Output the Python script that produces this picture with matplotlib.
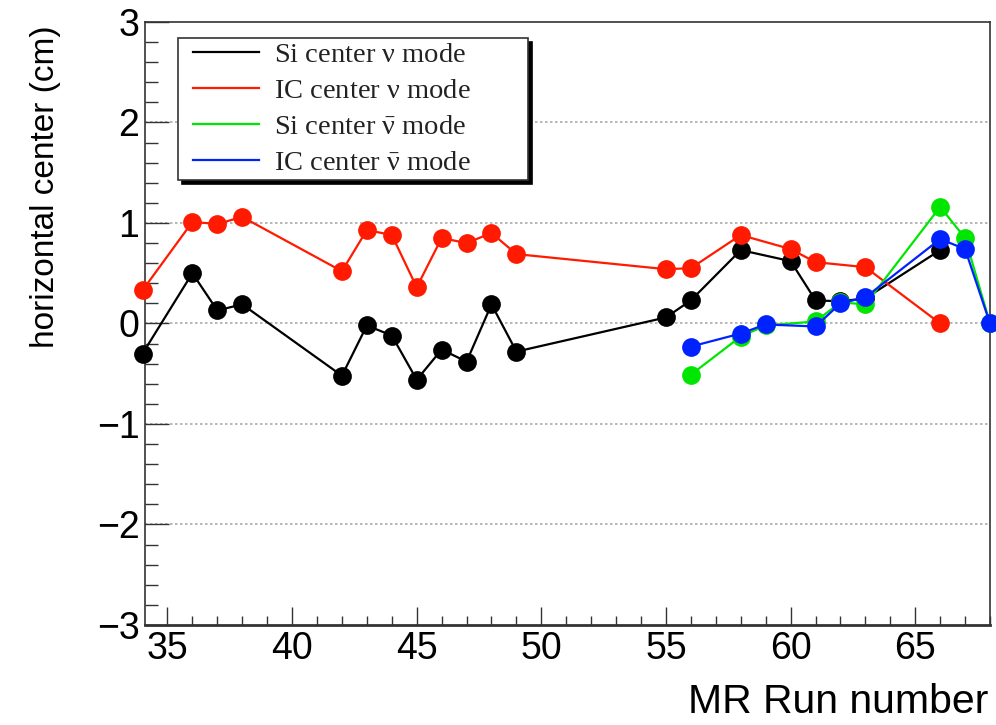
import numpy as np
import matplotlib
matplotlib.use('Agg')
import matplotlib.pyplot as plt
from matplotlib.ticker import MultipleLocator
from matplotlib.lines import Line2D
from matplotlib.legend_handler import HandlerLine2D

# data
run_si_nu = [34, 36, 37, 38, 42, 43, 44, 45, 46, 47, 48, 49, 55, 56, 58, 60, 61, 62, 63, 66]
si_nu = [-0.30, 0.50, 0.13, 0.19, -0.52, -0.02, -0.12, -0.56, -0.26, -0.38, 0.19, -0.28,
         0.06, 0.23, 0.73, 0.62, 0.23, 0.22, 0.25, 0.73]

run_ic_nu = [34, 36, 37, 38, 42, 43, 44, 45, 46, 47, 48, 49, 55, 56, 58, 60, 61, 63, 66]
ic_nu = [0.33, 1.01, 0.99, 1.06, 0.52, 0.93, 0.88, 0.36, 0.85, 0.80, 0.90, 0.69,
         0.54, 0.55, 0.88, 0.74, 0.61, 0.56, 0.00]

run_anti = [56, 58, 59, 61, 62, 63, 66, 67, 68]
si_anu = [-0.51, -0.13, -0.02, 0.02, 0.21, 0.19, 1.16, 0.85, 0.00]
ic_anu = [-0.23, -0.10, -0.01, -0.03, 0.20, 0.26, 0.84, 0.74, 0.00]

labels = [r'Si center $\mathrm{\nu}$ mode', r'IC center $\mathrm{\nu}$ mode',
          r'Si center $\mathrm{\bar{\nu}}$ mode', r'IC center $\mathrm{\bar{\nu}}$ mode']
colors = ['#000000', '#ff1a00', '#00e600', '#0022ff']

plt.rcParams['font.family'] = ['Liberation Sans', 'DejaVu Sans']
plt.rcParams['mathtext.fontset'] = 'custom'
plt.rcParams['mathtext.rm'] = 'Liberation Serif'
plt.rcParams['mathtext.it'] = 'Liberation Serif:italic'

fig = plt.figure(figsize=(9.96, 7.25), dpi=100)
ax = fig.add_axes([0.1456, 0.138, 0.8484, 0.8317])

series = [(run_si_nu, si_nu), (run_ic_nu, ic_nu), (run_anti, si_anu), (run_anti, ic_anu)]
for (xs, ys), c in zip(series, colors):
    ax.plot(xs, ys, '-o', color=c, lw=1.6, ms=13.5, mew=0, clip_on=False, zorder=3)

ax.set_xlim(34.1, 68.0)
ax.set_ylim(-3, 3)

for yv in [-2, -1, 0, 1, 2]:
    ax.axhline(yv, color='#aaaaaa', lw=1.2, ls=(0, (1.5, 1.5)), zorder=1)

ax.xaxis.set_major_locator(MultipleLocator(5))
ax.xaxis.set_minor_locator(MultipleLocator(1))
ax.yaxis.set_major_locator(MultipleLocator(1))
ax.yaxis.set_minor_locator(MultipleLocator(0.2))
ax.tick_params(which='both', direction='in', top=False, right=False, labelsize=27, width=1.0, color='#333333')
ax.tick_params(axis='x', which='major', length=13, pad=4)
ax.tick_params(axis='x', which='minor', length=6.5)
ax.tick_params(axis='y', which='major', length=17, pad=4)
ax.tick_params(axis='y', which='minor', length=9)
for sp in ax.spines.values():
    sp.set_linewidth(1.2)
    sp.set_color('#333333')
ax.spines['bottom'].set_linewidth(2.0)

ax.set_xlabel('MR Run number', fontsize=29.5, loc='right')
ax.xaxis.set_label_coords(0.9976, -0.097)
ax.set_ylabel('horizontal center (cm)', fontsize=24, loc='top')
ax.yaxis.set_label_coords(-0.100, 0.995)

handles = [Line2D([], [], color=c, lw=1.6) for c in colors]
leg = ax.legend(handles, labels, loc='upper left', bbox_to_anchor=(0.039, 0.738, 0.414, 0.235),
                mode='expand', fancybox=False, shadow={'color': 'black', 'alpha': 1.0, 'ox': 3, 'oy': -3},
                framealpha=1, edgecolor='#333333', prop={'family': 'Liberation Serif', 'size': 20.5},
                handler_map={Line2D: HandlerLine2D(numpoints=2, marker_pad=0.42)},
                handlelength=3.13, handletextpad=0.14, labelspacing=0.36, borderpad=0.12, borderaxespad=0)
leg.get_frame().set_linewidth(1.2)
for t in leg.get_texts():
    t.set_color('#222222')

fig.savefig('out.png', dpi=100)
